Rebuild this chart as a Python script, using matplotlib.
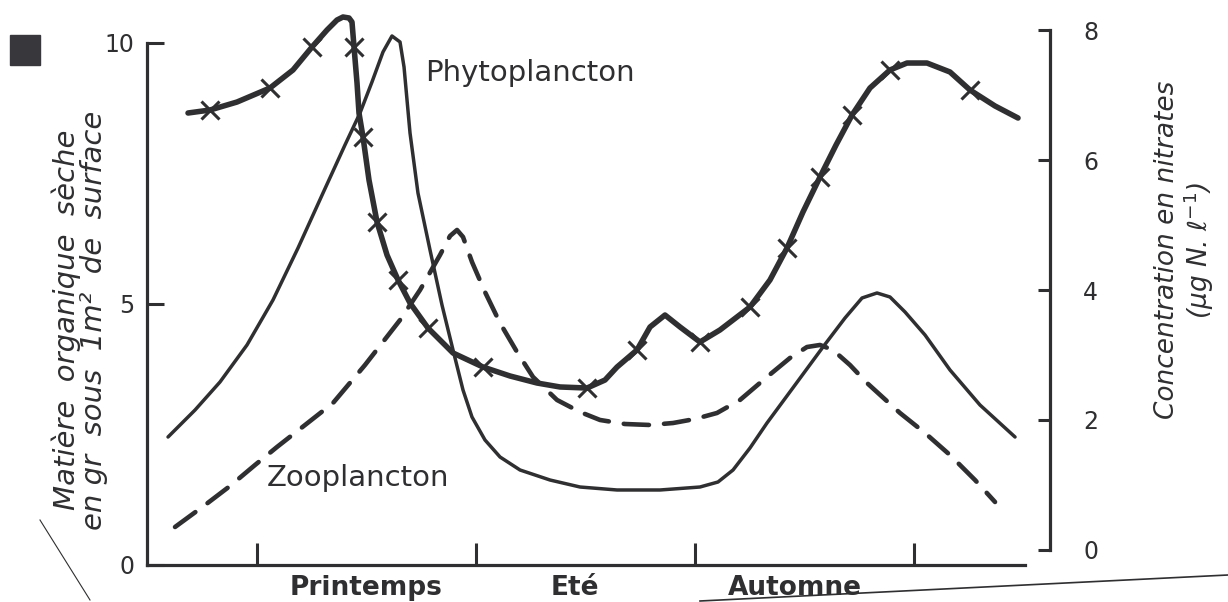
import matplotlib
matplotlib.use('Agg')
from matplotlib import pyplot as plt
from matplotlib.lines import Line2D
from matplotlib.patches import Rectangle

# months along the year (3 = start of spring, 6 = summer, 9 = autumn, 12 = winter)
phyto_x = [1.781, 2.151, 2.493, 2.863, 3.219, 3.562, 3.904, 4.205, 4.411, 4.575, 4.726,
           4.849, 4.959, 5.014, 5.096, 5.205, 5.370, 5.534, 5.685, 5.822, 5.945, 6.123,
           6.329, 6.603, 7.014, 7.425, 7.932, 8.521, 9.068, 9.315, 9.521, 9.753, 9.986,
           10.370, 10.753, 11.055, 11.288, 11.493, 11.671, 11.877, 12.151, 12.493,
           12.904, 13.384]
phyto_y = [2.452, 2.969, 3.506, 4.215, 5.077, 6.073, 7.126, 8.046, 8.659, 9.253, 9.828,
           10.134, 10.019, 9.540, 8.276, 7.126, 6.034, 4.981, 4.119, 3.352, 2.835, 2.395,
           2.069, 1.820, 1.628, 1.494, 1.437, 1.437, 1.494, 1.590, 1.820, 2.241, 2.720,
           3.448, 4.176, 4.732, 5.115, 5.211, 5.134, 4.847, 4.406, 3.736, 3.065, 2.452]

zoo_x = [1.877, 2.288, 2.630, 2.973, 3.274, 3.658, 4.041, 4.479, 4.959, 5.233, 5.507,
         5.644, 5.740, 5.822, 5.945, 6.123, 6.329, 6.562, 6.781, 7.110, 7.425, 7.699,
         8.041, 8.384, 8.699, 9.000, 9.301, 9.616, 9.986, 10.301, 10.534, 10.712,
         10.890, 11.123, 11.356, 11.808, 12.151, 12.493, 12.836, 13.110]
zoo_y = [0.728, 1.149, 1.513, 1.916, 2.261, 2.682, 3.103, 3.831, 4.693, 5.268, 5.939,
         6.303, 6.418, 6.284, 5.805, 5.230, 4.636, 4.080, 3.602, 3.161, 2.931, 2.778,
         2.701, 2.682, 2.720, 2.797, 2.912, 3.161, 3.602, 3.966, 4.176, 4.215,
         4.119, 3.831, 3.487, 2.912, 2.529, 2.107, 1.628, 1.207]

# nitrates (right axis)
nitr_x = [2.055, 2.356, 2.726, 3.178, 3.493, 3.753, 3.959, 4.096, 4.178, 4.260, 4.301,
          4.329, 4.370, 4.397, 4.452, 4.534, 4.644, 4.781, 4.932, 5.096, 5.342, 5.685,
          6.096, 6.466, 6.836, 7.151, 7.521, 7.767, 7.932, 8.205, 8.384, 8.589, 8.795,
          9.068, 9.342, 9.753, 10.027, 10.260, 10.479, 10.712, 10.932, 11.151, 11.397,
          11.671, 11.904, 12.178, 12.493, 12.767, 13.110, 13.425]
nitr_y = [6.723, 6.769, 6.892, 7.108, 7.385, 7.738, 8.000, 8.154, 8.200, 8.185, 8.123,
          7.738, 7.185, 6.723, 6.354, 5.692, 5.046, 4.538, 4.154, 3.800, 3.415, 3.031,
          2.815, 2.677, 2.569, 2.508, 2.492, 2.615, 2.815, 3.077, 3.431, 3.615, 3.431,
          3.200, 3.385, 3.738, 4.154, 4.646, 5.200, 5.738, 6.231, 6.692, 7.108,
          7.385, 7.492, 7.492, 7.354, 7.077, 6.831, 6.646]
nitr_marks = [1, 3, 5, 11, 14, 16, 18, 20, 22, 26, 29, 33, 35, 37, 39, 41, 43, 47]

season_x = [4.5, 7.36, 10.37]
season_labels = ['Printemps', 'Eté', 'Automne']

ink = '#2f2f31'

fig = plt.figure(figsize=(12.28, 6.02), dpi=100)
ax = fig.add_axes([147 / 1228, 37 / 602, 903 / 1228, 550 / 602])
ax2 = ax.twinx()

ax.set_xlim(1.493, 13.863)
ax.set_ylim(0, 10.536)
ax2.set_ylim(-0.2308, 8.2308)

ax.plot(phyto_x, phyto_y, color=ink, lw=2.5, solid_joinstyle='round', solid_capstyle='round',
        clip_on=False)
ax.plot(zoo_x, zoo_y, color=ink, lw=3.3, linestyle=(0, (5.5, 3.3)), dash_capstyle='round',
        clip_on=False)
ax2.plot(nitr_x, nitr_y, color=ink, lw=4, solid_joinstyle='round', solid_capstyle='round',
         marker='x', markevery=nitr_marks, markersize=13, mew=2.2, clip_on=False)

# axes styling
for a in (ax, ax2):
    for s in a.spines.values():
        s.set_visible(False)
        s.set_linewidth(2.3)
        s.set_color(ink)
ax.spines['left'].set_visible(True)
ax.spines['left'].set_bounds(0, 10)
ax.spines['bottom'].set_visible(True)
ax.spines['bottom'].set_bounds(1.493, 13.52)
ax2.spines['right'].set_visible(True)
ax2.spines['right'].set_bounds(0, 8)

ax.set_xticks([3, 6, 9, 12])
ax.tick_params(axis='x', direction='in', length=16, width=2.2, color=ink, labelbottom=False)
ax.set_yticks([0, 5, 10])
ax.tick_params(axis='y', direction='in', length=12, width=2.2, color=ink, pad=9,
               labelsize=17, labelcolor=ink)
ax2.set_yticks([0, 2, 4, 6, 8])
ax2.tick_params(axis='y', direction='in', length=9, width=2.2, color=ink, pad=24,
                labelsize=17, labelcolor=ink)

for x, lab in zip(season_x, season_labels):
    ax.text(x, -0.45, lab, ha='center', va='center', fontsize=19, fontweight='bold',
            color=ink, clip_on=False)

ax.text(6.74, 9.43, 'Phytoplancton', ha='center', va='center', fontsize=21, color=ink)
ax.text(4.38, 1.67, 'Zooplancton', ha='center', va='center', fontsize=21, color=ink)

fig.text(80 / 1228, 1 - 320 / 602, 'Matière  organique  sèche\nen gr  sous  1m²  de  surface',
         rotation=90, ha='center', va='center', fontsize=21, style='italic',
         linespacing=0.95, color=ink)
fig.text(1185 / 1228, 1 - 250 / 602, 'Concentration en nitrates\n(μg N. ℓ$^{-1}$)',
         rotation=90, ha='center', va='center', fontsize=19, style='italic',
         linespacing=1.05, color=ink)

# scan marks
fig.add_artist(Rectangle((10 / 1228, 1 - 65 / 602), 30 / 1228, 30 / 602,
                         transform=fig.transFigure, color='#38383c'))
fig.add_artist(Line2D([40 / 1228, 90 / 1228], [1 - 520 / 602, 1 - 600 / 602],
                      transform=fig.transFigure, color=ink, lw=0.8))
fig.add_artist(Line2D([700 / 1228, 1228 / 1228], [1 - 601 / 602, 1 - 575 / 602],
                      transform=fig.transFigure, color=ink, lw=1.2))

fig.savefig('out.png', dpi=100)
